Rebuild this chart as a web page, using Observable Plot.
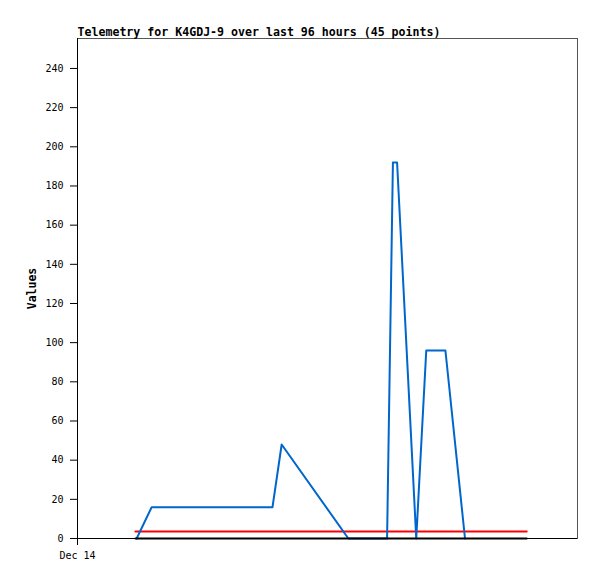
<!DOCTYPE html>
<html>
<head>
<meta charset="utf-8">
<script src="https://cdn.jsdelivr.net/npm/d3@7"></script>
<script src="https://cdn.jsdelivr.net/npm/@observablehq/plot@0.6"></script>
<style>
  html, body { margin: 0; padding: 0; background: #fff; }
  #chart svg { display: block; }
</style>
</head>
<body>
<div id="chart"></div>
<script>
// Data (hours since Dec 14 00:00)
const titleText = "Telemetry for K4GDJ-9 over last 96 hours (45 points)";
const blueHours  = [14.2, 17.8, 46.8, 49.0, 65.0, 74.3, 75.7, 76.7, 81.3, 83.7, 88.3, 93.0];
const blueValues = [0,    16,   16,   48,   0,    0,    192,  192,  0,    96,   96,   0];
const redHours   = [13.9, 107.8];
const redValues  = [3.6, 3.6];
const blackHours = [13.9, 107.8];
const blackValues = [0, 0];
const yTicks = [0, 20, 40, 60, 80, 100, 120, 140, 160, 180, 200, 220, 240];
const xTickLabels = ["Dec 14"];

const t0 = new Date(2023, 11, 14, 0, 0, 0);
const toDate = h => new Date(t0.getTime() + h * 3600e3);
const mk = (hs, vs) => hs.map((h, i) => ({t: toDate(h), v: vs[i]}));
const blue = mk(blueHours, blueValues);
const red = mk(redHours, redValues);
const black = mk(blackHours, blackValues);

const chart = Plot.plot({
  width: 597,
  height: 579,
  marginLeft: 77,
  marginRight: 20,
  marginTop: 38,
  marginBottom: 41,
  style: {fontFamily: "'DejaVu Sans Mono', monospace", fontSize: "10px", background: "#fff", color: "#000"},
  x: {type: "time", domain: [t0, toDate(120)]},
  y: {domain: [0, 255.3]},
  marks: [
    Plot.frame({stroke: "#555", strokeWidth: 1}),
    Plot.axisY({ticks: yTicks, tickSize: 7, tickPadding: 7, label: "Values", labelAnchor: "center", labelArrow: "none", labelOffset: 50}),
    Plot.axisX({ticks: [t0], tickFormat: (d, i) => xTickLabels[i], tickSize: 7, tickPadding: 6, label: null}),
    Plot.ruleX([t0], {stroke: "#000", strokeWidth: 1}),
    Plot.ruleY([0], {stroke: "#000", strokeWidth: 1}),
    Plot.line(red, {x: "t", y: "v", stroke: "#ff0000", strokeWidth: 2}),
    Plot.line(blue, {x: "t", y: "v", stroke: "#0066cc", strokeWidth: 2}),
    Plot.line(black, {x: "t", y: "v", stroke: "#000", strokeWidth: 2}),
    Plot.text([titleText], {frameAnchor: "top-left", text: d => d, textAnchor: "start", lineAnchor: "bottom", dy: -3, fontWeight: "bold", fontSize: 11.6})
  ]
});
// make the y-axis label bold and slightly larger
chart.querySelectorAll("g[aria-label='y-axis label'] text").forEach(t => {
  t.setAttribute("font-weight", "bold");
  t.setAttribute("font-size", "11.5");
});
document.getElementById("chart").appendChild(chart);
</script>
</body>
</html>
